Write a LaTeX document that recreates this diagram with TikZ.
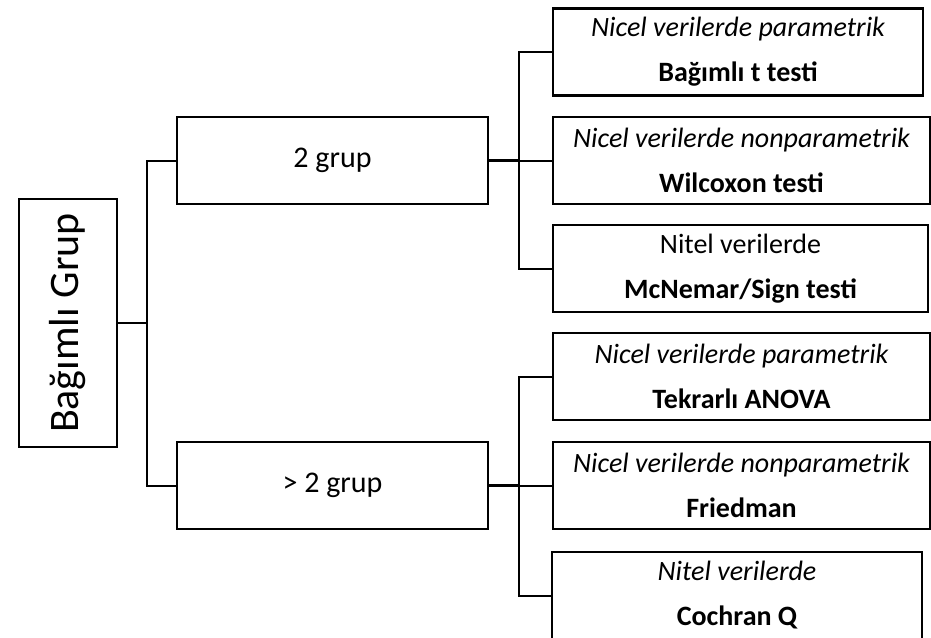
\documentclass[tikz,border=0pt]{standalone}
\usepackage{fontspec}
\setmainfont{Carlito}
\usetikzlibrary{positioning}

\begin{document}
\begin{tikzpicture}[
  x=1pt, y=-1pt,
  box/.style={draw, line width=2.2pt, inner sep=0pt, align=center,
              font=\fontsize{28}{45}\selectfont},
  grpbox/.style={box, minimum width=311pt, minimum height=87pt,
                 font=\fontsize{30}{36}\selectfont},
  testbox/.style={box, minimum height=87pt},
  link/.style={line width=2pt},
  stub/.style={line width=3.2pt}
]
\clip (0,0) rectangle (931,637);

% --- Root ---
\node[box, minimum width=98pt, minimum height=248pt] (root) at (68,323)
  {\fontsize{42}{50}\selectfont\rotatebox{90}{Bağımlı Grup}};

% --- Group sizes ---
\node[grpbox] (two) at (332.5,160.5) {2 grup};
\node[grpbox] (many) at (332.5,485.5) {> 2 grup};

% --- Tests for 2 groups ---
\node[testbox, minimum width=370pt] (ttest) at (738,52)
  {\itshape Nicel verilerde parametrik\\\bfseries Bağımlı t testi};
\node[testbox, minimum width=377pt] (wilcox) at (741.5,160.5)
  {\itshape Nicel verilerde nonparametrik\\\bfseries Wilcoxon testi};
\node[testbox, minimum width=375pt] (mcnemar) at (740.5,268.5)
  {Nitel verilerde\\\bfseries McNemar/Sign testi};

% --- Tests for more than 2 groups ---
\node[testbox, minimum width=377pt] (anova) at (741.5,376.5)
  {\itshape Nicel verilerde parametrik\\\bfseries Tekrarlı ANOVA};
\node[testbox, minimum width=377pt] (friedman) at (741.5,485.5)
  {\itshape Nicel verilerde nonparametrik\\\bfseries Friedman};
\node[testbox, minimum width=370pt] (cochran) at (737,595.5)
  {\itshape Nitel verilerde\\\bfseries Cochran Q};

% Junctions
\coordinate (jroot) at (147,323);
\coordinate (jtwo) at (519,160.5);
\coordinate (jmany) at (519,485.5);

% Connectors
\draw[link] (root.east) -- (jroot);
\draw[link] (two.west) -| (jroot) |- (many.west);

\draw[stub] (two.east) -- (jtwo);
\draw[link] (jtwo) -- (wilcox.west);
\draw[link] (ttest.west) -| (jtwo) |- (mcnemar.west);

\draw[stub] (many.east) -- (jmany);
\draw[link] (jmany) -- (friedman.west);
\draw[link] (anova.west) -| (jmany) |- (cochran.west);

\end{tikzpicture}
\end{document}
